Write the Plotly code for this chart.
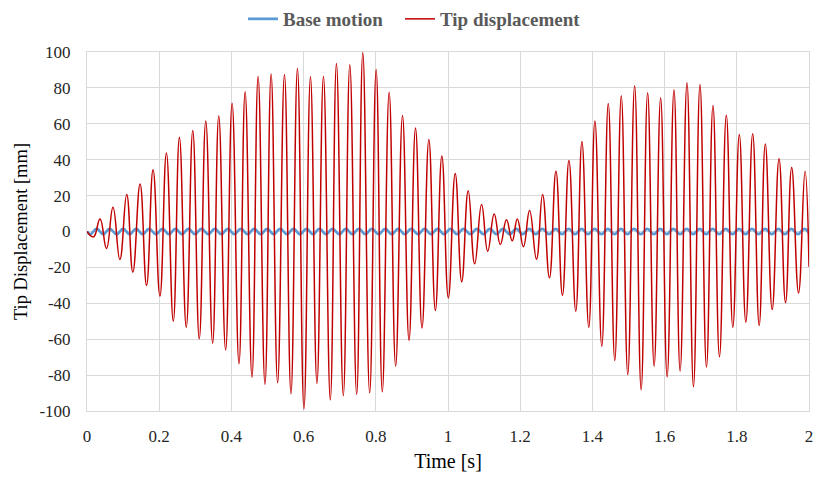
import plotly.graph_objects as go

# ---- data (extrema of each signal) ----
tip_time = [0.0, 0.018, 0.036, 0.054, 0.072, 0.091, 0.110, 0.127, 0.147, 0.165,
            0.183, 0.202, 0.220, 0.239, 0.256, 0.275, 0.293, 0.311, 0.329, 0.348,
            0.365, 0.384, 0.402, 0.421, 0.438, 0.457, 0.474, 0.493, 0.510, 0.528,
            0.547, 0.565, 0.583, 0.601, 0.619, 0.637, 0.655, 0.674, 0.691, 0.710,
            0.728, 0.747, 0.764, 0.783, 0.801, 0.818, 0.837, 0.855, 0.874, 0.892,
            0.910, 0.928, 0.947, 0.965, 0.983, 1.001, 1.020, 1.038, 1.056, 1.074,
            1.093, 1.110, 1.128, 1.145, 1.162, 1.178, 1.192, 1.209, 1.226, 1.245,
            1.262, 1.281, 1.299, 1.317, 1.335, 1.354, 1.371, 1.390, 1.407, 1.426,
            1.444, 1.462, 1.480, 1.498, 1.517, 1.535, 1.553, 1.571, 1.589, 1.607,
            1.626, 1.643, 1.662, 1.680, 1.698, 1.716, 1.734, 1.752, 1.771, 1.789,
            1.807, 1.825, 1.844, 1.862, 1.879, 1.898, 1.917, 1.935, 1.952, 1.971,
            1.989, 2.0]
tip_disp = [0, -3, 7, -9.5, 13.5, -15.6, 20.6, -22.7, 26.5, -30,
            34.4, -36, 43.8, -50, 52.5, -53.3, 56.3, -59.8, 61.5, -62.2,
            64.3, -66, 71.5, -73.7, 77.8, -81.2, 86.3, -85.2, 87.8, -84.3,
            87.5, -90.4, 90.8, -98.8, 86.2, -84.7, 86.3, -93.8, 93.6, -91.4,
            92.9, -90.8, 99.6, -89.9, 90.2, -89.3, 77.6, -75, 64.6, -60.7,
            57.6, -53.7, 51.3, -44, 42, -37, 32.3, -28, 22.7, -18,
            15, -11, 9.8, -7.2, 6.5, -5.2, 7, -8.5, 11.7, -15.4,
            20.6, -25.8, 33.6, -35.5, 39.6, -44.4, 50.1, -53.3, 61.5, -63.9,
            71.3, -71.9, 75.6, -79.7, 81.2, -88.2, 77.3, -75, 74.5, -81,
            78.9, -77.8, 82.8, -86.5, 81.9, -75.6, 70.2, -69.8, 64.8, -53.3,
            54, -50.5, 54.4, -52.4, 48.8, -43.5, 40.5, -39.7, 35.7, -34.2,
            33.6, -19.7]

base_time = [0.0, 0.009, 0.027, 0.045, 0.063, 0.082, 0.100, 0.118, 0.136, 0.154,
             0.172, 0.191, 0.209, 0.227, 0.245, 0.263, 0.281, 0.299, 0.317, 0.336,
             0.354, 0.372, 0.390, 0.408, 0.426, 0.445, 0.463, 0.481, 0.499, 0.517,
             0.535, 0.554, 0.572, 0.590, 0.608, 0.626, 0.644, 0.662, 0.680, 0.699,
             0.717, 0.735, 0.753, 0.771, 0.789, 0.808, 0.826, 0.844, 0.862, 0.880,
             0.898, 0.917, 0.935, 0.953, 0.971, 0.989, 1.007, 1.025, 1.043, 1.062,
             1.080, 1.098, 1.116, 1.134, 1.152, 1.171, 1.189, 1.207, 1.225, 1.243,
             1.261, 1.280, 1.298, 1.316, 1.334, 1.352, 1.370, 1.388, 1.406, 1.425,
             1.443, 1.461, 1.479, 1.497, 1.515, 1.534, 1.552, 1.570, 1.588, 1.606,
             1.624, 1.643, 1.661, 1.679, 1.697, 1.715, 1.733, 1.751, 1.769, 1.788,
             1.806, 1.824, 1.842, 1.860, 1.878, 1.897, 1.915, 1.933, 1.951, 1.969,
             1.987, 2.0]
base_disp = [0, -1.5, 1.5, -1.5, 1.5, -1.5, 1.5, -1.5, 1.5, -1.5,
             1.5, -1.5, 1.5, -1.5, 1.5, -1.5, 1.5, -1.5, 1.5, -1.5,
             1.5, -1.5, 1.5, -1.5, 1.5, -1.5, 1.5, -1.5, 1.5, -1.5,
             1.5, -1.5, 1.5, -1.5, 1.5, -1.5, 1.5, -1.5, 1.5, -1.5,
             1.5, -1.5, 1.5, -1.5, 1.5, -1.5, 1.5, -1.5, 1.5, -1.5,
             1.5, -1.5, 1.5, -1.5, 1.5, -1.5, 1.5, -1.5, 1.5, -1.5,
             1.5, -1.5, 1.5, -1.5, 1.5, -1.5, 1.5, -1.5, 1.5, -1.5,
             1.5, -1.5, 1.5, -1.5, 1.5, -1.5, 1.5, -1.5, 1.5, -1.5,
             1.5, -1.5, 1.5, -1.5, 1.5, -1.5, 1.5, -1.5, 1.5, -1.5,
             1.5, -1.5, 1.5, -1.5, 1.5, -1.5, 1.5, -1.5, 1.5, -1.5,
             1.5, -1.5, 1.5, -1.5, 1.5, -1.5, 1.5, -1.5, 1.5, -1.5,
             1.5, -0.9]

x_ticks = [0, 0.2, 0.4, 0.6, 0.8, 1, 1.2, 1.4, 1.6, 1.8, 2]
x_tick_labels = ["0", "0.2", "0.4", "0.6", "0.8", "1", "1.2", "1.4", "1.6", "1.8", "2"]
y_ticks = [-100, -80, -60, -40, -20, 0, 20, 40, 60, 80, 100]
y_tick_labels = ["-100", "-80", "-60", "-40", "-20", "0", "20", "40", "60", "80", "100"]

FONT = "Liberation Serif"
GRID = "#d9d9d9"
LEGEND_FONT = dict(family=FONT, size=19, color="#595959", weight="bold")

fig = go.Figure()
fig.add_trace(go.Scatter(
    x=base_time, y=base_disp, mode="lines", name="Base motion", legend="legend",
    line=dict(color="#5B9BD5", width=2.75, shape="spline", smoothing=1.3),
))
fig.add_trace(go.Scatter(
    x=tip_time, y=tip_disp, mode="lines", name="Tip displacement", legend="legend2",
    line=dict(color="#C00000", width=1.5, shape="spline", smoothing=1.3),
))

fig.update_layout(
    width=814, height=478,
    margin=dict(l=87, r=5, t=52, b=67),
    paper_bgcolor="white", plot_bgcolor="white",
    font=dict(family=FONT, color="#262626", size=17),
    showlegend=True,
    legend=dict(
        orientation="h", xref="container", yref="container",
        x=243 / 814, xanchor="left", y=1.0, yanchor="top",
        font=LEGEND_FONT, itemwidth=30, bgcolor="rgba(0,0,0,0)",
    ),
    legend2=dict(
        orientation="h", xref="container", yref="container",
        x=400 / 814, xanchor="left", y=1.0, yanchor="top",
        font=LEGEND_FONT, itemwidth=30, bgcolor="rgba(0,0,0,0)",
    ),
    xaxis=dict(
        range=[0, 2], tickvals=x_ticks, ticktext=x_tick_labels,
        showgrid=True, gridcolor=GRID, gridwidth=1,
        showline=True, linecolor=GRID, linewidth=1, mirror=True,
        zeroline=False, ticks="", ticklabelstandoff=10, automargin=False,
        tickfont=dict(family=FONT, size=17, color="#262626"),
        title=dict(text="Time [s]", font=dict(family=FONT, size=20, color="#000"), standoff=8),
    ),
    yaxis=dict(
        range=[-100, 100], tickvals=y_ticks, ticktext=y_tick_labels,
        showgrid=True, gridcolor=GRID, gridwidth=1,
        showline=True, linecolor=GRID, linewidth=1, mirror=True,
        zeroline=False, ticks="", ticklabelstandoff=12, automargin=False,
        tickfont=dict(family=FONT, size=17, color="#262626"),
        title=dict(text="Tip Displacement [mm]", font=dict(family=FONT, size=18.5, color="#000"), standoff=6),
    ),
)

fig.write_html("out.html")
